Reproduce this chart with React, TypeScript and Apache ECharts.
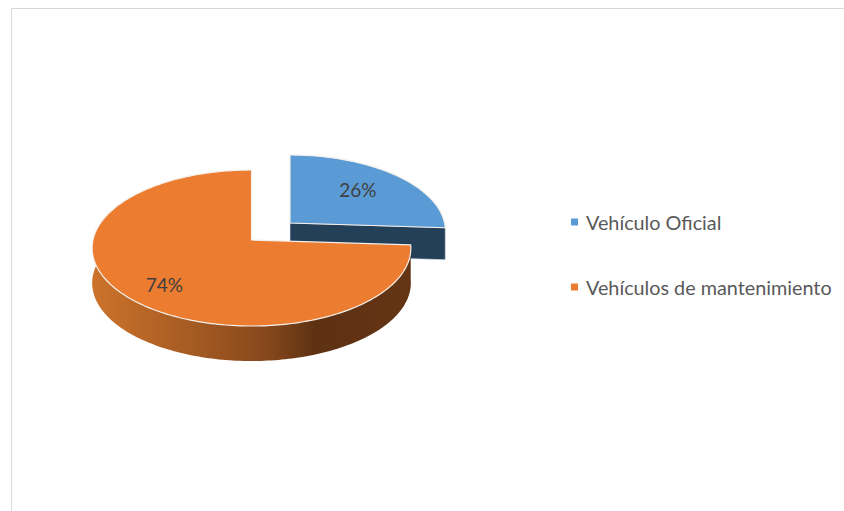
import React, { useEffect, useRef } from "react";
import * as echarts from "echarts";

const categories = ["Vehículo Oficial", "Vehículos de mantenimiento"];
const shares = [26, 74];
const topColors = ["#5B9BD5", "#EC7C30"];

const total = shares.reduce((a, b) => a + b, 0);
const FONT = 'Lato, "Open Sans", sans-serif';

// Layout of each slice: apex, radii of the tilted disc, depth of the extrusion.
const layouts = [
  { ax: 290, ay: 223, rx: 154.6, ry: 75, depth: 32, labelR: 0.6, labelDx: 3, labelDy: -4 },
  { ax: 251.5, ay: 240, rx: 158.5, ry: 77.2, depth: 35, labelR: 0.755, labelDx: 5, labelDy: 2 },
];
const PERSPECTIVE = 0.1026;

function project(l: any, angle: number, r = 1): [number, number] {
  const u = r * Math.sin(angle);
  const v = -r * Math.cos(angle);
  const w = 1 - PERSPECTIVE * v;
  return [l.ax + (l.rx * u) / w, l.ay + (l.ry * v) / w];
}

function arc(l: any, from: number, to: number): [number, number][] {
  const pts: [number, number][] = [];
  const n = Math.max(2, Math.ceil(Math.abs(to - from) / 0.02));
  for (let i = 0; i <= n; i++) pts.push(project(l, from + ((to - from) * i) / n));
  return pts;
}

function renderSlice(seriesIndex: number) {
  return (_params: any, api: any) => {
    const value = api.value(0);
    const before = shares.slice(0, seriesIndex).reduce((a, b) => a + b, 0);
    const start = (before / total) * Math.PI * 2;
    const end = start + (value / total) * Math.PI * 2;
    const l = layouts[seriesIndex];
    const rim = arc(l, start, end);
    const apex: [number, number] = [l.ax, l.ay];
    const down = (p: [number, number]): [number, number] => [p[0], p[1] + l.depth];
    const children: any[] = [];

    if (seriesIndex === 0) {
      // Cut face towards the viewer, and the short piece of outer wall beside it.
      const last = rim[rim.length - 1];
      children.push({
        type: "polygon",
        shape: { points: [apex, last, down(last), down(apex)] },
        style: { fill: "#243F58", stroke: "#E4E8EC", lineWidth: 0.6 },
      });
    } else {
      // Outer wall: everything from the start of the slice to just past the left edge.
      const wallEnd = Math.min(end, (Math.PI * 2 * 290) / 360);
      const wallTop = arc(l, start, wallEnd);
      children.push({
        type: "polygon",
        shape: { points: [...wallTop, ...wallTop.slice().reverse().map(down)] },
        style: {
          fill: new echarts.graphic.LinearGradient(0, 0, 1, 0, [
            { offset: 0, color: "#CC732C" },
            { offset: 0.3, color: "#A75C23" },
            { offset: 0.55, color: "#86481C" },
            { offset: 0.7, color: "#5E3112" },
            { offset: 1, color: "#643515" },
          ]),
        },
      });
    }

    children.push({
      type: "polygon",
      shape: { points: [apex, ...rim] },
      style: { fill: topColors[seriesIndex], stroke: "#F4EFEA", lineWidth: 1.2, lineJoin: "round" },
    });

    const [lx, ly] = project(l, (start + end) / 2, l.labelR);
    children.push({
      type: "text",
      style: {
        text: `${value}%`,
        x: lx + l.labelDx,
        y: ly + l.labelDy,
        fill: "#404040",
        font: `19px ${FONT}`,
        textAlign: "center",
        textVerticalAlign: "middle",
      },
    });
    return { type: "group", children };
  };
}

export default function App() {
  const ref = useRef<HTMLDivElement>(null);
  useEffect(() => {
    document.body.style.margin = "0";
    const chart = echarts.init(ref.current!, undefined, { renderer: "svg" });
    chart.setOption({
      animation: false,
      backgroundColor: "#FFFFFF",
      legend: {
        show: true,
        orient: "vertical",
        left: 571,
        top: 212,
        padding: 0,
        itemWidth: 7,
        itemHeight: 7,
        itemGap: 45,
        icon: "rect",
        selectedMode: false,
        data: categories,
        textStyle: { color: "#595959", fontSize: 19.8, fontFamily: FONT, padding: [0, 0, 0, 3] },
      },
      graphic: [
        { type: "line", silent: true, shape: { x1: 11.5, y1: 8.5, x2: 844, y2: 8.5 }, style: { stroke: "#D9D9D9", lineWidth: 1 } },
        { type: "line", silent: true, shape: { x1: 11.5, y1: 8.5, x2: 11.5, y2: 511 }, style: { stroke: "#D9D9D9", lineWidth: 1 } },
      ],
      series: categories.map((name, i) => ({
        type: "custom",
        name,
        coordinateSystem: "none",
        silent: true,
        z: i + 1,
        itemStyle: { color: topColors[i] },
        data: [[shares[i]]],
        renderItem: renderSlice(i),
      })),
    });
    return () => chart.dispose();
  }, []);
  return <div ref={ref} style={{ position: "absolute", left: 0, top: 0, width: 844, height: 511 }} />;
}
